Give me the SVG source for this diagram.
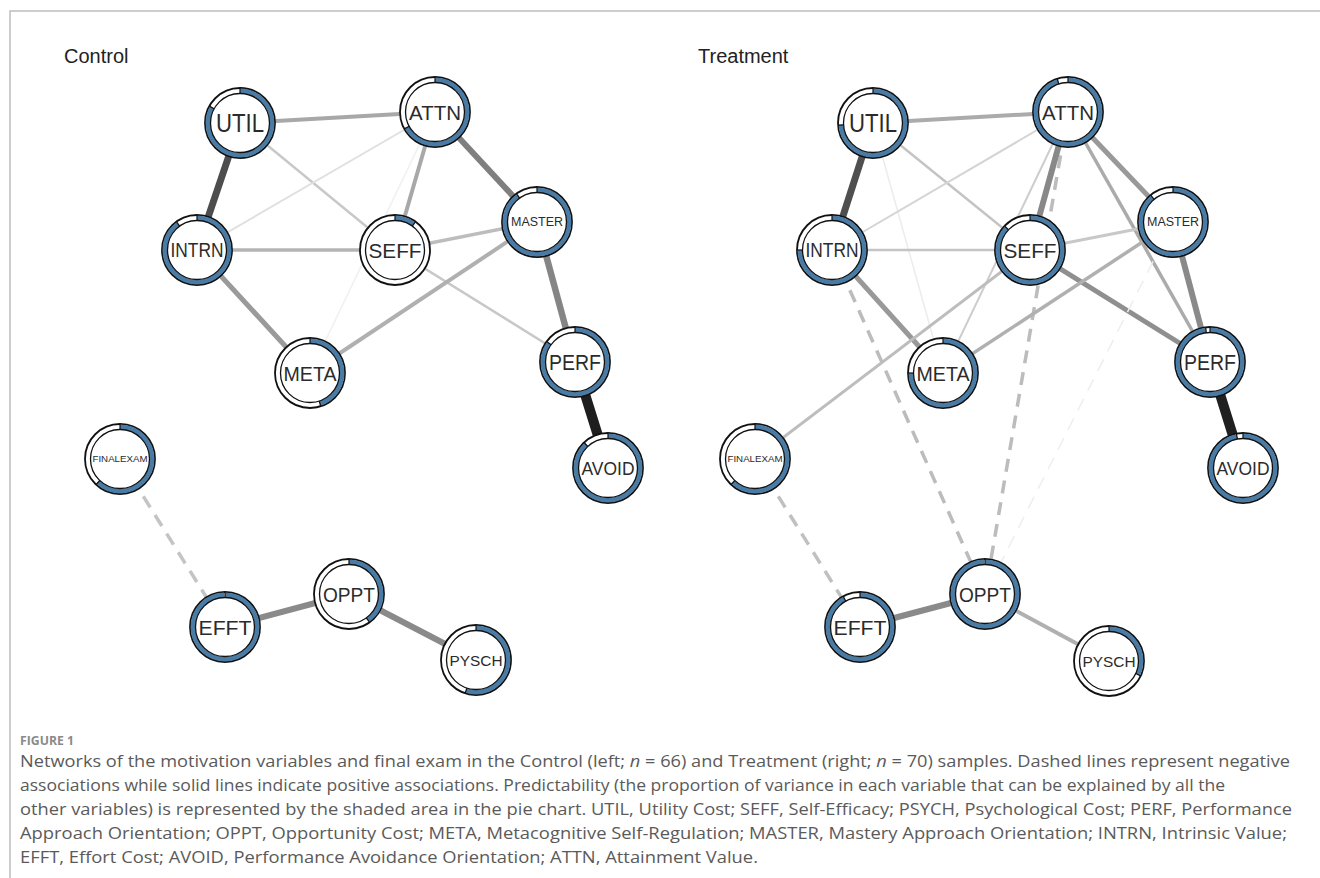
<svg xmlns="http://www.w3.org/2000/svg" width="1320" height="878" viewBox="0 0 1320 878">
<style>
.frame{stroke:#bdbdbd;stroke-width:1.5;fill:none}
.title{font-family:"Liberation Sans",Arial,sans-serif;font-size:20px;fill:#222}
.e{fill:none;stroke-linecap:butt}
.neg{stroke-dasharray:13 9}
.outer{fill:#fff;stroke:#111;stroke-width:1.8}
.ring{fill:none;stroke:#4a7ba5;stroke-width:4.8}
.inner{fill:none;stroke:#111;stroke-width:1.3}
.tick{stroke:#111;stroke-width:1.2}
.lbl{font-family:"Liberation Sans",Arial,sans-serif;fill:#2b2b2b;text-anchor:middle;dominant-baseline:central}
.figno{font-family:"Open Sans","Liberation Sans",sans-serif;font-size:12px;font-weight:bold;fill:#8a8a8a}
.cap{font-family:"Open Sans","Liberation Sans",sans-serif;font-size:15.5px;fill:#5a5a5a}
</style>
<rect width="1320" height="878" fill="#fff"/>
<path class="frame" d="M10,878 V11 H1320"/>
<text class="title" x="64" y="63">Control</text>
<text class="title" x="698" y="63">Treatment</text>

<g id="connectors">
<!-- Control -->
<line class="e" x1="240" y1="123" x2="435" y2="112" stroke="#a8a8a8" stroke-width="4"/>
<line class="e" x1="240" y1="123" x2="197" y2="250" stroke="#4d4d4d" stroke-width="7"/>
<line class="e" x1="240" y1="123" x2="395" y2="250" stroke="#c8c8c8" stroke-width="2.5"/>
<line class="e" x1="197" y1="250" x2="435" y2="112" stroke="#e0e0e0" stroke-width="2"/>
<line class="e" x1="197" y1="250" x2="395" y2="250" stroke="#b4b4b4" stroke-width="3.5"/>
<line class="e" x1="197" y1="250" x2="310" y2="373" stroke="#9a9a9a" stroke-width="5"/>
<line class="e" x1="435" y1="112" x2="395" y2="250" stroke="#a8a8a8" stroke-width="4"/>
<line class="e" x1="435" y1="112" x2="537" y2="222" stroke="#7f7f7f" stroke-width="6"/>
<line class="e" x1="435" y1="112" x2="310" y2="373" stroke="#f0f0f0" stroke-width="1.5"/>
<line class="e" x1="395" y1="250" x2="537" y2="222" stroke="#bdbdbd" stroke-width="3.5"/>
<line class="e" x1="395" y1="250" x2="575" y2="362" stroke="#c8c8c8" stroke-width="2.5"/>
<line class="e" x1="310" y1="373" x2="537" y2="222" stroke="#b0b0b0" stroke-width="4"/>
<line class="e" x1="537" y1="222" x2="575" y2="362" stroke="#858585" stroke-width="6.5"/>
<line class="e" x1="575" y1="362" x2="608" y2="468" stroke="#1e1e1e" stroke-width="10"/>
<line class="e neg" x1="120" y1="459" x2="225" y2="627" stroke="#c4c4c4" stroke-width="3.5"/>
<line class="e" x1="225" y1="627" x2="349" y2="594" stroke="#8a8a8a" stroke-width="6"/>
<line class="e" x1="349" y1="594" x2="476" y2="660" stroke="#8a8a8a" stroke-width="6"/>
<!-- Treatment -->
<line class="e" x1="873" y1="123" x2="1068" y2="112" stroke="#ababab" stroke-width="4"/>
<line class="e" x1="873" y1="123" x2="832" y2="250" stroke="#4f4f4f" stroke-width="7"/>
<line class="e" x1="873" y1="123" x2="1030" y2="250" stroke="#c4c4c4" stroke-width="2.5"/>
<line class="e" x1="873" y1="123" x2="943" y2="373" stroke="#ececec" stroke-width="1.5"/>
<line class="e" x1="832" y1="250" x2="1068" y2="112" stroke="#d4d4d4" stroke-width="2"/>
<line class="e" x1="832" y1="250" x2="1030" y2="250" stroke="#c4c4c4" stroke-width="2.5"/>
<line class="e" x1="832" y1="250" x2="943" y2="373" stroke="#999999" stroke-width="5"/>
<line class="e neg" x1="832" y1="250" x2="985" y2="594" stroke="#bcbcbc" stroke-width="3.5"/>
<line class="e" x1="1068" y1="112" x2="943" y2="373" stroke="#cdcdcd" stroke-width="2"/>
<line class="e neg" x1="1068" y1="112" x2="985" y2="594" stroke="#bcbcbc" stroke-width="3.5"/>
<line class="e" x1="1068" y1="112" x2="1030" y2="250" stroke="#888888" stroke-width="6"/>
<line class="e" x1="1068" y1="112" x2="1173" y2="222" stroke="#999999" stroke-width="5"/>
<line class="e" x1="1068" y1="112" x2="1210" y2="362" stroke="#ababab" stroke-width="3.5"/>
<line class="e" x1="1030" y1="250" x2="1173" y2="222" stroke="#c8c8c8" stroke-width="3"/>
<line class="e" x1="1030" y1="250" x2="1210" y2="362" stroke="#8f8f8f" stroke-width="5"/>
<line class="e" x1="755" y1="459" x2="1030" y2="250" stroke="#bdbdbd" stroke-width="3"/>
<line class="e" x1="943" y1="373" x2="1173" y2="222" stroke="#b0b0b0" stroke-width="3.5"/>
<line class="e" x1="1173" y1="222" x2="1210" y2="362" stroke="#8a8a8a" stroke-width="6"/>
<line class="e neg" x1="1173" y1="222" x2="985" y2="594" stroke="#eeeeee" stroke-width="1.5"/>
<line class="e" x1="1210" y1="362" x2="1243" y2="468" stroke="#202020" stroke-width="10"/>
<line class="e neg" x1="755" y1="459" x2="860" y2="627" stroke="#c0c0c0" stroke-width="3.5"/>
<line class="e" x1="860" y1="627" x2="985" y2="594" stroke="#8a8a8a" stroke-width="6"/>
<line class="e" x1="985" y1="594" x2="1109" y2="661" stroke="#b0b0b0" stroke-width="4"/>
</g>

<!-- Control nodes -->
<g id="c-util" transform="translate(240,123)"><circle class="outer" r="35"/><circle class="ring" r="32" pathLength="100" stroke-dasharray="83 100" transform="rotate(-90)"/><circle class="inner" r="29.5"/><line class="tick" y1="-35" y2="-29.5"/><line class="tick" y1="-35" y2="-29.5" transform="rotate(298.8)"/><text class="lbl" font-size="25" textLength="48" lengthAdjust="spacingAndGlyphs">UTIL</text></g>
<g id="c-attn" transform="translate(435,112)"><circle class="outer" r="35"/><circle class="ring" r="32" pathLength="100" stroke-dasharray="67 100" transform="rotate(-90)"/><circle class="inner" r="29.5"/><line class="tick" y1="-35" y2="-29.5"/><line class="tick" y1="-35" y2="-29.5" transform="rotate(241.2)"/><text class="lbl" font-size="21" textLength="52" lengthAdjust="spacingAndGlyphs">ATTN</text></g>
<g id="c-intrn" transform="translate(197,250)"><circle class="outer" r="35"/><circle class="ring" r="32" pathLength="100" stroke-dasharray="90 100" transform="rotate(-90)"/><circle class="inner" r="29.5"/><line class="tick" y1="-35" y2="-29.5"/><line class="tick" y1="-35" y2="-29.5" transform="rotate(324)"/><text class="lbl" font-size="20" textLength="53" lengthAdjust="spacingAndGlyphs">INTRN</text></g>
<g id="c-seff" transform="translate(395,250)"><circle class="outer" r="35"/><circle class="ring" r="32" pathLength="100" stroke-dasharray="10 100" transform="rotate(-90)"/><circle class="inner" r="29.5"/><line class="tick" y1="-35" y2="-29.5"/><line class="tick" y1="-35" y2="-29.5" transform="rotate(36)"/><text class="lbl" font-size="21" textLength="53" lengthAdjust="spacingAndGlyphs">SEFF</text></g>
<g id="c-master" transform="translate(537,222)"><circle class="outer" r="35"/><circle class="ring" r="32" pathLength="100" stroke-dasharray="90 100" transform="rotate(-90)"/><circle class="inner" r="29.5"/><line class="tick" y1="-35" y2="-29.5"/><line class="tick" y1="-35" y2="-29.5" transform="rotate(324)"/><text class="lbl" font-size="12.5" textLength="52" lengthAdjust="spacingAndGlyphs">MASTER</text></g>
<g id="c-meta" transform="translate(310,373)"><circle class="outer" r="35"/><circle class="ring" r="32" pathLength="100" stroke-dasharray="45 100" transform="rotate(-90)"/><circle class="inner" r="29.5"/><line class="tick" y1="-35" y2="-29.5"/><line class="tick" y1="-35" y2="-29.5" transform="rotate(162)"/><text class="lbl" font-size="21" textLength="53" lengthAdjust="spacingAndGlyphs">META</text></g>
<g id="c-perf" transform="translate(575,362)"><circle class="outer" r="35"/><circle class="ring" r="32" pathLength="100" stroke-dasharray="85 100" transform="rotate(-90)"/><circle class="inner" r="29.5"/><line class="tick" y1="-35" y2="-29.5"/><line class="tick" y1="-35" y2="-29.5" transform="rotate(306)"/><text class="lbl" font-size="22" textLength="52" lengthAdjust="spacingAndGlyphs">PERF</text></g>
<g id="c-avoid" transform="translate(608,468)"><circle class="outer" r="35"/><circle class="ring" r="32" pathLength="100" stroke-dasharray="88 100" transform="rotate(-90)"/><circle class="inner" r="29.5"/><line class="tick" y1="-35" y2="-29.5"/><line class="tick" y1="-35" y2="-29.5" transform="rotate(316.8)"/><text class="lbl" font-size="18.5" textLength="53" lengthAdjust="spacingAndGlyphs">AVOID</text></g>
<g id="c-finalexam" transform="translate(120,459)"><circle class="outer" r="35"/><circle class="ring" r="32" pathLength="100" stroke-dasharray="62 100" transform="rotate(-90)"/><circle class="inner" r="29.5"/><line class="tick" y1="-35" y2="-29.5"/><line class="tick" y1="-35" y2="-29.5" transform="rotate(223.2)"/><text class="lbl" font-size="9" textLength="55" lengthAdjust="spacingAndGlyphs">FINALEXAM</text></g>
<g id="c-efft" transform="translate(225,627)"><circle class="outer" r="35"/><circle class="ring" r="32" pathLength="100" stroke-dasharray="99.5 100" transform="rotate(-90)"/><circle class="inner" r="29.5"/><line class="tick" y1="-35" y2="-29.5"/><text class="lbl" font-size="21" textLength="53" lengthAdjust="spacingAndGlyphs">EFFT</text></g>
<g id="c-oppt" transform="translate(349,594)"><circle class="outer" r="35"/><circle class="ring" r="32" pathLength="100" stroke-dasharray="40 100" transform="rotate(-90)"/><circle class="inner" r="29.5"/><line class="tick" y1="-35" y2="-29.5"/><line class="tick" y1="-35" y2="-29.5" transform="rotate(144)"/><text class="lbl" font-size="21" textLength="52" lengthAdjust="spacingAndGlyphs">OPPT</text></g>
<g id="c-pysch" transform="translate(476,660)"><circle class="outer" r="35"/><circle class="ring" r="32" pathLength="100" stroke-dasharray="55 100" transform="rotate(-90)"/><circle class="inner" r="29.5"/><line class="tick" y1="-35" y2="-29.5"/><line class="tick" y1="-35" y2="-29.5" transform="rotate(198)"/><text class="lbl" font-size="15.5" textLength="53" lengthAdjust="spacingAndGlyphs">PYSCH</text></g>

<!-- Treatment nodes -->
<g id="t-util" transform="translate(873,123)"><circle class="outer" r="35"/><circle class="ring" r="32" pathLength="100" stroke-dasharray="74 100" transform="rotate(-90)"/><circle class="inner" r="29.5"/><line class="tick" y1="-35" y2="-29.5"/><line class="tick" y1="-35" y2="-29.5" transform="rotate(266.4)"/><text class="lbl" font-size="25" textLength="48" lengthAdjust="spacingAndGlyphs">UTIL</text></g>
<g id="t-attn" transform="translate(1068,112)"><circle class="outer" r="35"/><circle class="ring" r="32" pathLength="100" stroke-dasharray="95 100" transform="rotate(-90)"/><circle class="inner" r="29.5"/><line class="tick" y1="-35" y2="-29.5"/><line class="tick" y1="-35" y2="-29.5" transform="rotate(342)"/><text class="lbl" font-size="21" textLength="52" lengthAdjust="spacingAndGlyphs">ATTN</text></g>
<g id="t-intrn" transform="translate(832,250)"><circle class="outer" r="35"/><circle class="ring" r="32" pathLength="100" stroke-dasharray="75 100" transform="rotate(-90)"/><circle class="inner" r="29.5"/><line class="tick" y1="-35" y2="-29.5"/><line class="tick" y1="-35" y2="-29.5" transform="rotate(270)"/><text class="lbl" font-size="20" textLength="53" lengthAdjust="spacingAndGlyphs">INTRN</text></g>
<g id="t-seff" transform="translate(1030,250)"><circle class="outer" r="35"/><circle class="ring" r="32" pathLength="100" stroke-dasharray="87 100" transform="rotate(-90)"/><circle class="inner" r="29.5"/><line class="tick" y1="-35" y2="-29.5"/><line class="tick" y1="-35" y2="-29.5" transform="rotate(313.2)"/><text class="lbl" font-size="21" textLength="53" lengthAdjust="spacingAndGlyphs">SEFF</text></g>
<g id="t-master" transform="translate(1173,222)"><circle class="outer" r="35"/><circle class="ring" r="32" pathLength="100" stroke-dasharray="89 100" transform="rotate(-90)"/><circle class="inner" r="29.5"/><line class="tick" y1="-35" y2="-29.5"/><line class="tick" y1="-35" y2="-29.5" transform="rotate(320.4)"/><text class="lbl" font-size="12.5" textLength="52" lengthAdjust="spacingAndGlyphs">MASTER</text></g>
<g id="t-meta" transform="translate(943,373)"><circle class="outer" r="35"/><circle class="ring" r="32" pathLength="100" stroke-dasharray="75 100" transform="rotate(-90)"/><circle class="inner" r="29.5"/><line class="tick" y1="-35" y2="-29.5"/><line class="tick" y1="-35" y2="-29.5" transform="rotate(270)"/><text class="lbl" font-size="21" textLength="53" lengthAdjust="spacingAndGlyphs">META</text></g>
<g id="t-perf" transform="translate(1210,362)"><circle class="outer" r="35"/><circle class="ring" r="32" pathLength="100" stroke-dasharray="98 100" transform="rotate(-90)"/><circle class="inner" r="29.5"/><line class="tick" y1="-35" y2="-29.5"/><line class="tick" y1="-35" y2="-29.5" transform="rotate(352.8)"/><text class="lbl" font-size="22" textLength="52" lengthAdjust="spacingAndGlyphs">PERF</text></g>
<g id="t-avoid" transform="translate(1243,468)"><circle class="outer" r="35"/><circle class="ring" r="32" pathLength="100" stroke-dasharray="97 100" transform="rotate(-90)"/><circle class="inner" r="29.5"/><line class="tick" y1="-35" y2="-29.5"/><line class="tick" y1="-35" y2="-29.5" transform="rotate(349.2)"/><text class="lbl" font-size="18.5" textLength="53" lengthAdjust="spacingAndGlyphs">AVOID</text></g>
<g id="t-finalexam" transform="translate(755,459)"><circle class="outer" r="35"/><circle class="ring" r="32" pathLength="100" stroke-dasharray="62 100" transform="rotate(-90)"/><circle class="inner" r="29.5"/><line class="tick" y1="-35" y2="-29.5"/><line class="tick" y1="-35" y2="-29.5" transform="rotate(223.2)"/><text class="lbl" font-size="9" textLength="55" lengthAdjust="spacingAndGlyphs">FINALEXAM</text></g>
<g id="t-efft" transform="translate(860,627)"><circle class="outer" r="35"/><circle class="ring" r="32" pathLength="100" stroke-dasharray="92 100" transform="rotate(-90)"/><circle class="inner" r="29.5"/><line class="tick" y1="-35" y2="-29.5"/><line class="tick" y1="-35" y2="-29.5" transform="rotate(331.2)"/><text class="lbl" font-size="21" textLength="53" lengthAdjust="spacingAndGlyphs">EFFT</text></g>
<g id="t-oppt" transform="translate(985,594)"><circle class="outer" r="35"/><circle class="ring" r="32" pathLength="100" stroke-dasharray="99.5 100" transform="rotate(-90)"/><circle class="inner" r="29.5"/><line class="tick" y1="-35" y2="-29.5"/><text class="lbl" font-size="21" textLength="52" lengthAdjust="spacingAndGlyphs">OPPT</text></g>
<g id="t-pysch" transform="translate(1109,661)"><circle class="outer" r="35"/><circle class="ring" r="32" pathLength="100" stroke-dasharray="32 100" transform="rotate(-90)"/><circle class="inner" r="29.5"/><line class="tick" y1="-35" y2="-29.5"/><line class="tick" y1="-35" y2="-29.5" transform="rotate(115.2)"/><text class="lbl" font-size="15.5" textLength="53" lengthAdjust="spacingAndGlyphs">PYSCH</text></g>

<g id="caption">
<text class="figno" x="20" y="745" textLength="54" lengthAdjust="spacingAndGlyphs">FIGURE 1</text>
<text class="cap" x="20" y="767" textLength="1270" lengthAdjust="spacingAndGlyphs">Networks of the motivation variables and final exam in the Control (left; <tspan font-style="italic">n</tspan> = 66) and Treatment (right; <tspan font-style="italic">n</tspan> = 70) samples. Dashed lines represent negative</text>
<text class="cap" x="20" y="791" textLength="1205" lengthAdjust="spacingAndGlyphs">associations while solid lines indicate positive associations. Predictability (the proportion of variance in each variable that can be explained by all the</text>
<text class="cap" x="20" y="815" textLength="1272" lengthAdjust="spacingAndGlyphs">other variables) is represented by the shaded area in the pie chart. UTIL, Utility Cost; SEFF, Self-Efficacy; PSYCH, Psychological Cost; PERF, Performance</text>
<text class="cap" x="20" y="839" textLength="1267" lengthAdjust="spacingAndGlyphs">Approach Orientation; OPPT, Opportunity Cost; META, Metacognitive Self-Regulation; MASTER, Mastery Approach Orientation; INTRN, Intrinsic Value;</text>
<text class="cap" x="20" y="863" textLength="738" lengthAdjust="spacingAndGlyphs">EFFT, Effort Cost; AVOID, Performance Avoidance Orientation; ATTN, Attainment Value.</text>
</g>
</svg>
